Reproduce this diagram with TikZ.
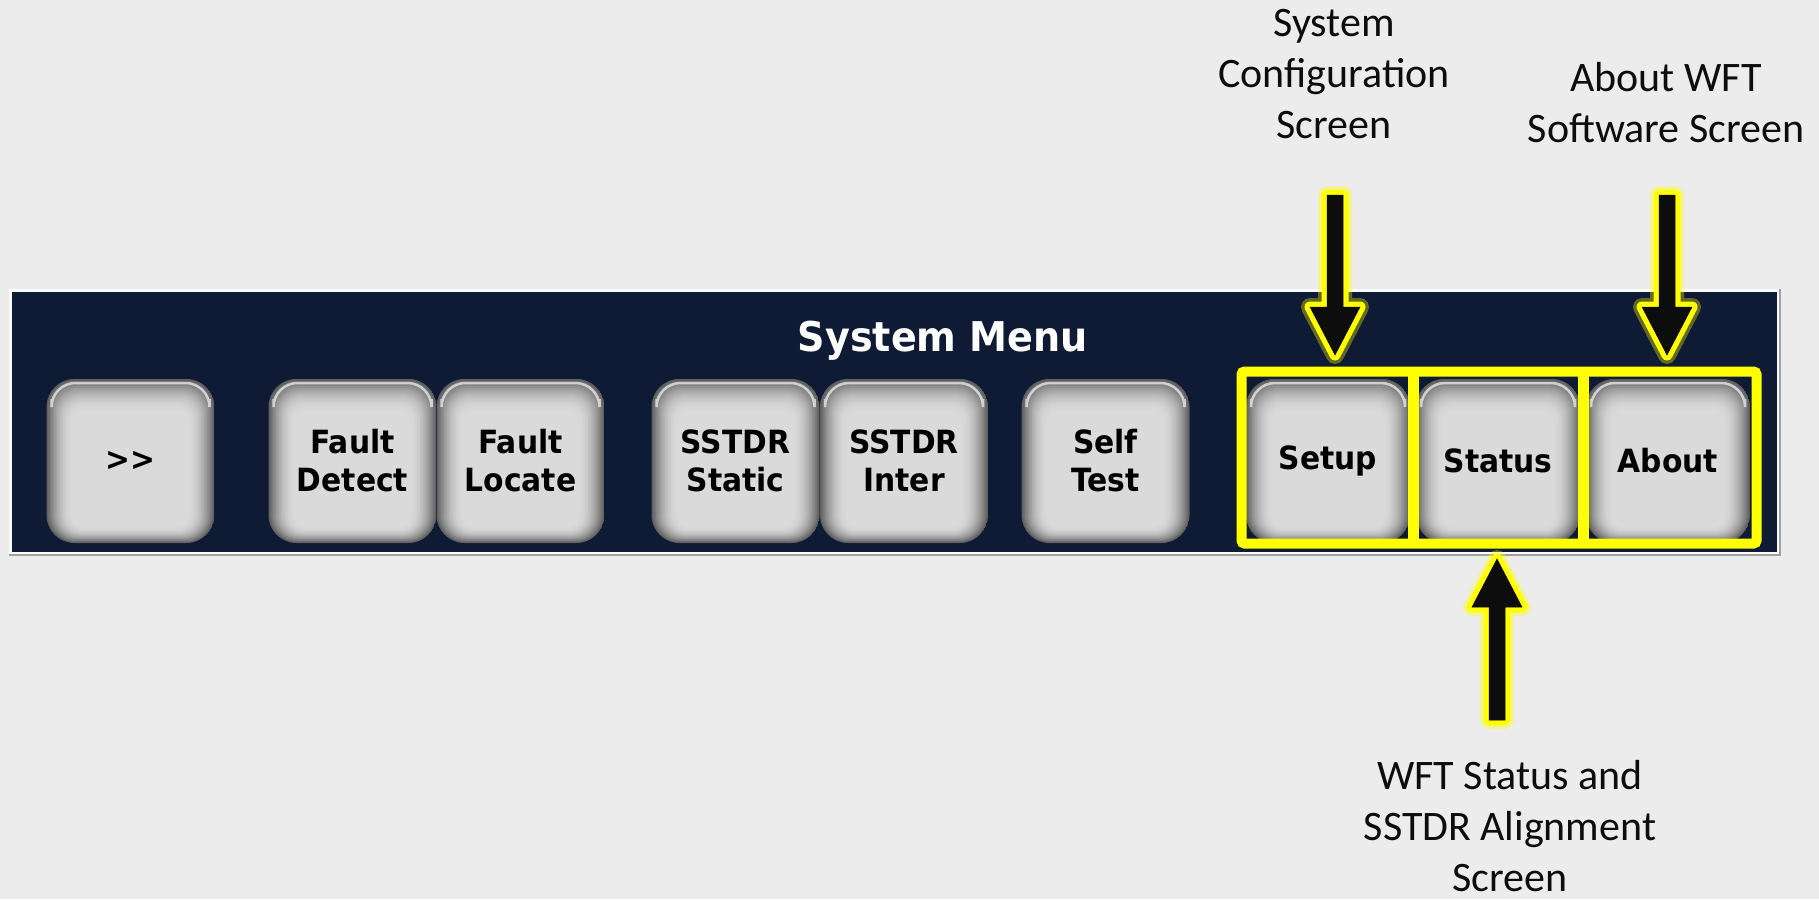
\documentclass[tikz,border=0pt]{standalone}
\usepackage{fontspec}
\setmainfont{Carlito}
\newfontfamily\btnfont[FakeStretch=0.93]{DejaVu Sans Bold}
\usetikzlibrary{calc}

\definecolor{pagebg}{RGB}{236,236,236}
\definecolor{navy}{RGB}{15,26,53}
\definecolor{ink}{RGB}{13,13,13}
\definecolor{hl}{RGB}{255,255,0}
\definecolor{rimlight}{RGB}{250,250,250}
\definecolor{rimdark}{RGB}{160,160,160}

\tikzset{
  btn/.style={shape=rectangle, minimum width=168pt, minimum height=164pt,
    inner sep=0pt, rounded corners=28pt, align=center, text=black,
    font=\btnfont\fontsize{32}{38}\selectfont,
    path picture={
      % soft bevel: nested rounded layers from dark rim to light face
      \foreach \i in {0,...,18}{
        \pgfmathtruncatemacro\v{round(96+122*(1-(1-\i/18)^2))}
        \pgfmathsetmacro\r{max(28-0.9*\i,12)}
        \pgfmathsetmacro\sx{1.5*\i}
        \pgfmathsetmacro\st{1.8*\i}
        \pgfmathsetmacro\sb{0.9*\i}
        \definecolor{btnlayer}{RGB}{\v,\v,\v}
        \fill[btnlayer, rounded corners=\r pt]
          ([shift={(\sx pt,\sb pt)}]path picture bounding box.south west)
          rectangle ([shift={(-\sx pt,-\st pt)}]path picture bounding box.north east);
      }
      % shine along the top edge
      \draw[white, line width=2.5pt, opacity=0.65, rounded corners=24pt]
        ([shift={(5pt,-20pt)}]path picture bounding box.north west)
        -- ([shift={(5pt,-4pt)}]path picture bounding box.north west)
        -- ([shift={(-5pt,-4pt)}]path picture bounding box.north east)
        -- ([shift={(-5pt,-20pt)}]path picture bounding box.north east);
    }},
  btnnarrow/.style={btn, minimum width=164pt},
  caption/.style={align=center, text=ink, font=\fontsize{42}{51}\selectfont},
  menutitle/.style={text=white, font=\btnfont\fontsize{41}{48}\selectfont},
  hlframe/.style={draw=hl, line width=10pt, rounded corners=3pt},
  hldivider/.style={draw=hl, line width=11pt},
  glowwide/.style={draw=hl, line width=18pt, line join=round, opacity=0.35},
  glow/.style={draw=hl, line width=11pt, line join=round},
  arrowcore/.style={fill=ink, draw=ink, line width=0.5pt},
}

% block arrow from a tail point to a tip point; #3 = 1 points down, -1 points up
\newcommand\blockarrow[3]{%
  \foreach \sty in {glowwide,glow,arrowcore}{
    \path[\sty] ($(#1)+(-8,0)$) -- ($(#2)+(-8,{-48*(#3)})$)
      -- ($(#2)+(-25,{-48*(#3)})$) -- (#2) -- ($(#2)+(25,{-48*(#3)})$)
      -- ($(#2)+(8,{-48*(#3)})$) -- ($(#1)+(8,0)$) -- cycle;
  }%
}

\begin{document}
\begin{tikzpicture}[x=1pt, y=-1pt]
  % page
  \fill[pagebg] (0,0) rectangle (1819,899);
  \useasboundingbox (0,0) rectangle (1819,899);

  % menu panel
  \fill[rimlight] (9,289) rectangle (1781,556);
  \draw[rimdark, line width=2pt] (9,555) -- (1780,555) -- (1780,289);
  \fill[navy] (12,292) rectangle (1777,552);

  \node[menutitle] (menuTitle) at (943,341) {System Menu};

  % buttons
  \node[btn] (more)        at (130.5,461) {>{}>};
  \node[btn] (faultDetect) at (352.5,461) {Fault\\Detect};
  \node[btn] (faultLocate) at (520.5,461) {Fault\\Locate};
  \node[btn] (sstdrStatic) at (735.5,461) {SSTDR\\Static};
  \node[btn] (sstdrInter)  at (904,461)   {SSTDR\\Inter};
  \node[btn] (selfTest)    at (1105.5,461) {Self\\Test};
  \node[btnnarrow] (setup)  at (1328,461) {\raisebox{-3pt}{Setup}};
  \node[btnnarrow] (status) at (1498,461) {Status};
  \node[btnnarrow] (about)  at (1668,461) {About};

  % highlight frame round the last three buttons
  \draw[hlframe] (1241.5,371.5) rectangle (1756.5,543.5);
  \draw[hldivider] (1413,371.5) -- (1413,543.5);
  \draw[hldivider] (1583,371.5) -- (1583,543.5);

  % pointer arrows
  \coordinate (cfgTail)   at (1335,195);
  \coordinate (cfgTip)    at (1335,355);
  \coordinate (aboutTail) at (1667,195);
  \coordinate (aboutTip)  at (1667,355);
  \coordinate (statTail)  at (1497,720);
  \coordinate (statTip)   at (1497,559);
  \blockarrow{cfgTail}{cfgTip}{1}
  \blockarrow{aboutTail}{aboutTip}{1}
  \blockarrow{statTail}{statTip}{-1}

  % captions
  \node[caption] (cfgLabel)   at (1334,74)  {System\\Configuration\\Screen};
  \node[caption] (aboutLabel) at (1666,103) {About WFT\\Software Screen};
  \node[caption] (statLabel)  at (1510,826) {WFT Status and\\SSTDR Alignment\\Screen};
\end{tikzpicture}
\end{document}
